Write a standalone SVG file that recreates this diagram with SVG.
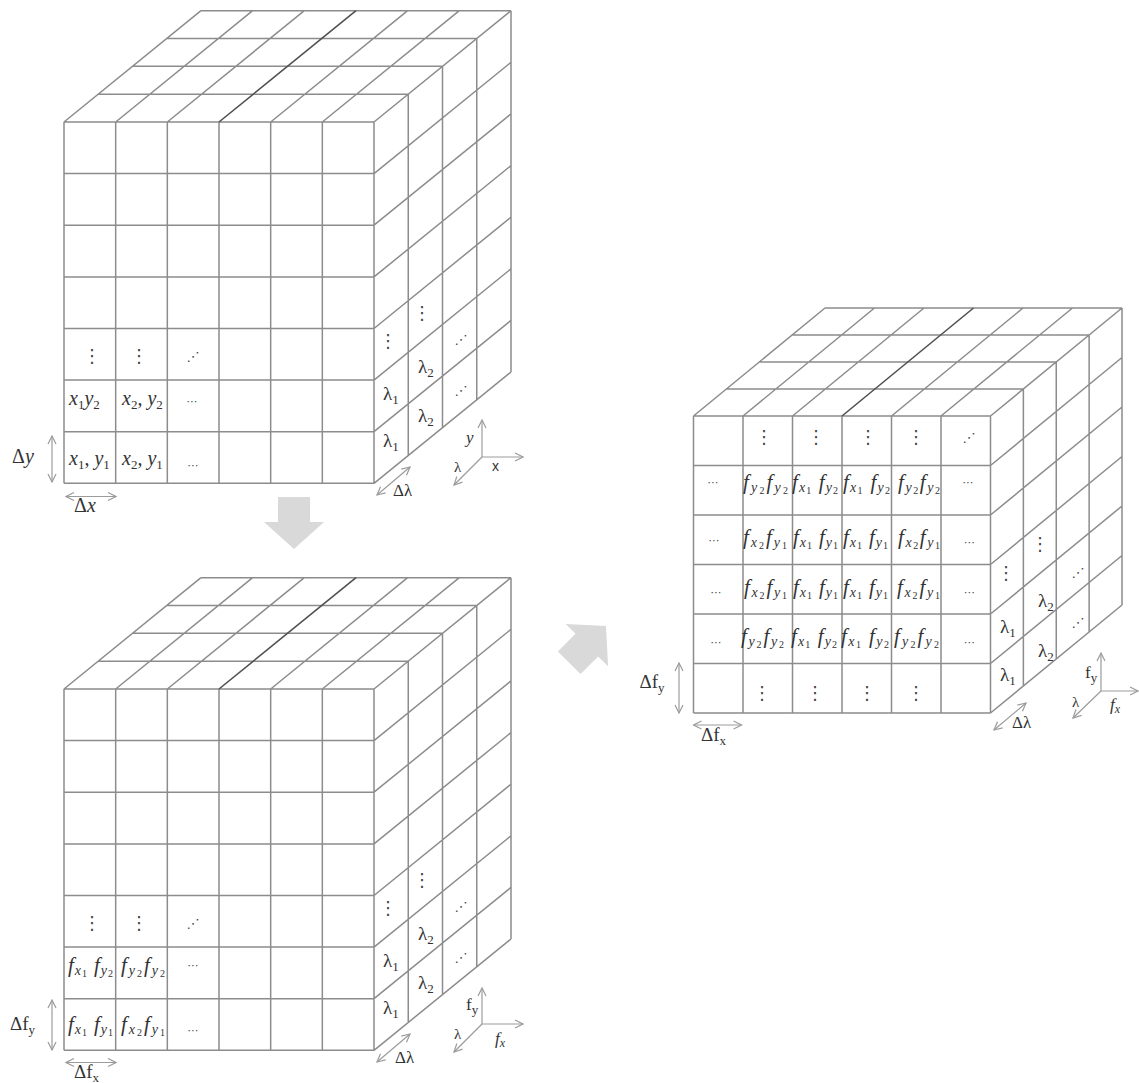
<svg xmlns="http://www.w3.org/2000/svg" width="1139" height="1083" viewBox="0 0 1139 1083">
<style>
.g{fill:none;stroke:#8c8c8c;stroke-width:1.5}
.gd{fill:none;stroke:#505050;stroke-width:1.6}
.dim{fill:none;stroke:#9c9c9c;stroke-width:1.2;marker-start:url(#ah);marker-end:url(#ah)}
.ax{fill:none;stroke:#9c9c9c;stroke-width:1.2;marker-end:url(#ah)}
.m{font-family:"Liberation Serif",serif;font-size:20px;font-style:italic;fill:#333}
.f{font-family:"Liberation Serif",serif;font-size:21px;font-style:italic;fill:#333}
.r{font-family:"Liberation Serif",serif;font-size:19px;fill:#333}
.s{font-size:13px;font-style:normal}
.si{font-size:14px;font-style:italic}
.ss{font-size:10px;font-style:normal}
.d{font-family:"DejaVu Sans",sans-serif;font-size:18px;fill:#444;text-anchor:middle}
.e{font-family:"DejaVu Sans",sans-serif;font-size:11px;fill:#444;text-anchor:middle}
.o{font-family:"DejaVu Sans",sans-serif;font-size:13px;fill:#444;text-anchor:middle}
.sans{font-family:"Liberation Sans",sans-serif;font-size:14px;fill:#333}
.arrow{fill:#d9d9d9}
</style>
<defs>
<marker id="ah" viewBox="0 0 10 10" refX="9" refY="5" markerWidth="10" markerHeight="10" markerUnits="userSpaceOnUse" orient="auto-start-reverse">
<path d="M1,1 L9,5 L1,9" fill="none" stroke="#9c9c9c" stroke-width="1.2"/>
</marker>
<polygon id="bigarrow" points="-16,0 16,0 16,25 30,25 0,52 -30,25 -16,25"/>
<g id="grid7">
<path class="g" d="M64,122V483.3M115.67,122V483.3M167.33,122V483.3M219,122V483.3M270.67,122V483.3M322.33,122V483.3M374,122V483.3
M64,122H374M64,173.6H374M64,225.2H374M64,276.9H374M64,328.5H374M64,380.1H374M64,431.7H374M64,483.3H374
M98.25,94.17H408.25M132.5,66.34H442.5M166.75,38.51H476.75M201,10.68H511
M64,122l137,-111.32M115.67,122l137,-111.32M167.33,122l137,-111.32M270.67,122l137,-111.32M322.33,122l137,-111.32M374,122l137,-111.32
M408.25,94.17V455.47M442.5,66.34V427.64M476.75,38.51V399.81M511,10.68V371.98
M374,173.6l137,-111.32M374,225.2l137,-111.32M374,276.9l137,-111.32M374,328.5l137,-111.32M374,380.1l137,-111.32M374,431.7l137,-111.32M374,483.3l137,-111.32"/>
<path class="gd" d="M219,122l137,-111.32"/>
</g>
</defs>

<g id="cube-xy">
<use href="#grid7"/>
<text class="d" x="92" y="362">⋮</text>
<text class="d" x="139" y="362">⋮</text>
<text class="o" x="193" y="361">⋰</text>
<text class="m" x="69" y="405">x<tspan class="s" dy="4">1</tspan><tspan dy="-4">y</tspan><tspan class="s" dy="4">2</tspan></text>
<text class="m" x="122" y="405">x<tspan class="s" dy="4">2</tspan><tspan class="s" dy="-4" style="font-size:20px">, </tspan>y<tspan class="s" dy="4">2</tspan></text>
<text class="e" x="192" y="405">⋯</text>
<text class="m" x="69" y="465">x<tspan class="s" dy="4">1</tspan><tspan class="s" dy="-4" style="font-size:20px">, </tspan>y<tspan class="s" dy="4">1</tspan></text>
<text class="m" x="122" y="465">x<tspan class="s" dy="4">2</tspan><tspan class="s" dy="-4" style="font-size:20px">, </tspan>y<tspan class="s" dy="4">1</tspan></text>
<text class="e" x="193" y="469">⋯</text>
<text class="r" x="383" y="447">λ<tspan class="s" dy="4">1</tspan></text>
<text class="r" x="383" y="400">λ<tspan class="s" dy="4">1</tspan></text>
<text class="r" x="418" y="422">λ<tspan class="s" dy="4">2</tspan></text>
<text class="r" x="418" y="373">λ<tspan class="s" dy="4">2</tspan></text>
<text class="d" x="388" y="347">⋮</text>
<text class="d" x="422" y="319">⋮</text>
<text class="o" x="461" y="395">⋰</text>
<text class="o" x="461" y="344">⋰</text>
<text class="r" x="12" y="463" style="font-size:20px">Δ<tspan style="font-style:italic">y</tspan></text>
<text class="r" x="74" y="512" style="font-size:20px">Δ<tspan style="font-style:italic">x</tspan></text>
<text class="r" x="393" y="496" style="font-size:17px">Δλ</text>
<text class="m" x="466" y="443" style="font-size:17px">y</text>
<text class="sans" x="492" y="471">x</text>
<text class="r" x="454" y="472" style="font-size:15px">λ</text>
<path class="dim" d="M52,436V482"/>
<path class="dim" d="M66,496.5H116"/>
<path class="dim" d="M377,495L410,467"/>
<path class="ax" d="M482,457V420"/>
<path class="ax" d="M482,457H523"/>
<path class="ax" d="M482,457L454,485"/>
</g>

<g id="cube-fxfy">
<use href="#grid7" y="567"/>
<text class="d" x="92" y="929">⋮</text>
<text class="d" x="139" y="929">⋮</text>
<text class="o" x="193" y="928">⋰</text>
<text class="f" x="68" y="972" textLength="45" lengthAdjust="spacing">f<tspan class="si" dy="3">x</tspan><tspan class="ss" dy="2">1</tspan><tspan dy="-5"> f</tspan><tspan class="si" dy="3">y</tspan><tspan class="ss" dy="2">2</tspan></text>
<text class="f" x="121" y="972" textLength="44" lengthAdjust="spacing">f<tspan class="si" dy="3">y</tspan><tspan class="ss" dy="2">2</tspan><tspan dy="-5">f</tspan><tspan class="si" dy="3">y</tspan><tspan class="ss" dy="2">2</tspan></text>
<text class="e" x="193" y="969">⋯</text>
<text class="f" x="68" y="1031" textLength="45" lengthAdjust="spacing">f<tspan class="si" dy="3">x</tspan><tspan class="ss" dy="2">1</tspan><tspan dy="-5"> f</tspan><tspan class="si" dy="3">y</tspan><tspan class="ss" dy="2">1</tspan></text>
<text class="f" x="121" y="1031" textLength="44" lengthAdjust="spacing">f<tspan class="si" dy="3">x</tspan><tspan class="ss" dy="2">2</tspan><tspan dy="-5">f</tspan><tspan class="si" dy="3">y</tspan><tspan class="ss" dy="2">1</tspan></text>
<text class="e" x="193" y="1034">⋯</text>
<text class="r" x="383" y="1014">λ<tspan class="s" dy="4">1</tspan></text>
<text class="r" x="383" y="967">λ<tspan class="s" dy="4">1</tspan></text>
<text class="r" x="418" y="989">λ<tspan class="s" dy="4">2</tspan></text>
<text class="r" x="418" y="940">λ<tspan class="s" dy="4">2</tspan></text>
<text class="d" x="388" y="914">⋮</text>
<text class="d" x="422" y="886">⋮</text>
<text class="o" x="461" y="962">⋰</text>
<text class="o" x="461" y="911">⋰</text>
<text class="r" x="10" y="1030">Δf<tspan class="s" dy="4">y</tspan></text>
<text class="r" x="74" y="1078">Δf<tspan class="s" dy="4">x</tspan></text>
<text class="r" x="395" y="1063" style="font-size:17px">Δλ</text>
<text class="r" x="466" y="1010" style="font-size:17px">f<tspan class="s" dy="4">y</tspan></text>
<text class="r" x="454" y="1039" style="font-size:15px">λ</text>
<text class="m" x="495" y="1044" style="font-size:17px">f<tspan class="si" dy="3" style="font-size:12px">x</tspan></text>
<path class="dim" d="M52,1000V1050"/>
<path class="dim" d="M66,1062.5H116"/>
<path class="dim" d="M377,1062L410,1034"/>
<path class="ax" d="M482,1024V988"/>
<path class="ax" d="M482,1024H523"/>
<path class="ax" d="M482,1024L454,1052"/>
</g>

<g id="cube-shifted">
<path class="g" d="M693.5,416V713M743,416V713M792.5,416V713M842,416V713M891.5,416V713M941,416V713M990.5,416V713
M693.5,416H990.5M693.5,465.5H990.5M693.5,515H990.5M693.5,564.5H990.5M693.5,614H990.5M693.5,663.5H990.5M693.5,713H990.5
M726.375,389H1023.375M759.25,362H1056.25M792.125,335H1089.125M825,308H1122
M693.5,416l131.5,-108M743,416l131.5,-108M792.5,416l131.5,-108M891.5,416l131.5,-108M941,416l131.5,-108M990.5,416l131.5,-108
M1023.375,389V686M1056.25,362V659M1089.125,335V632M1122,308V605
M990.5,465.5l131.5,-108M990.5,515l131.5,-108M990.5,564.5l131.5,-108M990.5,614l131.5,-108M990.5,663.5l131.5,-108M990.5,713l131.5,-108"/>
<path class="gd" d="M842,416l131.5,-108"/>
<text class="d" x="764" y="443">⋮</text>
<text class="d" x="816" y="443">⋮</text>
<text class="d" x="868" y="443">⋮</text>
<text class="d" x="916" y="443">⋮</text>
<text class="o" x="969" y="442">⋰</text>
<text class="e" x="713" y="486">⋯</text>
<text class="f" x="743" y="489" textLength="45" lengthAdjust="spacing">f<tspan class="si" dy="3">y</tspan><tspan class="ss" dy="2">2</tspan><tspan dy="-5">f</tspan><tspan class="si" dy="3">y</tspan><tspan class="ss" dy="2">2</tspan></text>
<text class="f" x="792" y="489" textLength="46" lengthAdjust="spacing">f<tspan class="si" dy="3">x</tspan><tspan class="ss" dy="2">1</tspan><tspan dy="-5"> f</tspan><tspan class="si" dy="3">y</tspan><tspan class="ss" dy="2">2</tspan></text>
<text class="f" x="843" y="489" textLength="47" lengthAdjust="spacing">f<tspan class="si" dy="3">x</tspan><tspan class="ss" dy="2">1</tspan><tspan dy="-5"> f</tspan><tspan class="si" dy="3">y</tspan><tspan class="ss" dy="2">2</tspan></text>
<text class="f" x="898" y="489" textLength="42" lengthAdjust="spacing">f<tspan class="si" dy="3">y</tspan><tspan class="ss" dy="2">2</tspan><tspan dy="-5">f</tspan><tspan class="si" dy="3">y</tspan><tspan class="ss" dy="2">2</tspan></text>
<text class="e" x="968" y="486">⋯</text>
<text class="e" x="714" y="544">⋯</text>
<text class="f" x="743" y="544" textLength="44" lengthAdjust="spacing">f<tspan class="si" dy="3">x</tspan><tspan class="ss" dy="2">2</tspan><tspan dy="-5">f</tspan><tspan class="si" dy="3">y</tspan><tspan class="ss" dy="2">1</tspan></text>
<text class="f" x="793" y="544" textLength="45" lengthAdjust="spacing">f<tspan class="si" dy="3">x</tspan><tspan class="ss" dy="2">1</tspan><tspan dy="-5"> f</tspan><tspan class="si" dy="3">y</tspan><tspan class="ss" dy="2">1</tspan></text>
<text class="f" x="843" y="544" textLength="45" lengthAdjust="spacing">f<tspan class="si" dy="3">x</tspan><tspan class="ss" dy="2">1</tspan><tspan dy="-5"> f</tspan><tspan class="si" dy="3">y</tspan><tspan class="ss" dy="2">1</tspan></text>
<text class="f" x="898" y="544" textLength="42" lengthAdjust="spacing">f<tspan class="si" dy="3">x</tspan><tspan class="ss" dy="2">2</tspan><tspan dy="-5">f</tspan><tspan class="si" dy="3">y</tspan><tspan class="ss" dy="2">1</tspan></text>
<text class="e" x="969.5" y="546">⋯</text>
<text class="e" x="716" y="596">⋯</text>
<text class="f" x="744" y="593.5" textLength="43" lengthAdjust="spacing">f<tspan class="si" dy="3">x</tspan><tspan class="ss" dy="2">2</tspan><tspan dy="-5">f</tspan><tspan class="si" dy="3">y</tspan><tspan class="ss" dy="2">1</tspan></text>
<text class="f" x="793" y="593.5" textLength="45" lengthAdjust="spacing">f<tspan class="si" dy="3">x</tspan><tspan class="ss" dy="2">1</tspan><tspan dy="-5"> f</tspan><tspan class="si" dy="3">y</tspan><tspan class="ss" dy="2">1</tspan></text>
<text class="f" x="843" y="593.5" textLength="45" lengthAdjust="spacing">f<tspan class="si" dy="3">x</tspan><tspan class="ss" dy="2">1</tspan><tspan dy="-5"> f</tspan><tspan class="si" dy="3">y</tspan><tspan class="ss" dy="2">1</tspan></text>
<text class="f" x="897" y="593.5" textLength="43" lengthAdjust="spacing">f<tspan class="si" dy="3">x</tspan><tspan class="ss" dy="2">2</tspan><tspan dy="-5">f</tspan><tspan class="si" dy="3">y</tspan><tspan class="ss" dy="2">1</tspan></text>
<text class="e" x="969.5" y="596">⋯</text>
<text class="e" x="716" y="646">⋯</text>
<text class="f" x="741" y="643" textLength="43" lengthAdjust="spacing">f<tspan class="si" dy="3">y</tspan><tspan class="ss" dy="2">2</tspan><tspan dy="-5">f</tspan><tspan class="si" dy="3">y</tspan><tspan class="ss" dy="2">2</tspan></text>
<text class="f" x="791" y="643" textLength="46" lengthAdjust="spacing">f<tspan class="si" dy="3">x</tspan><tspan class="ss" dy="2">1</tspan><tspan dy="-5"> f</tspan><tspan class="si" dy="3">y</tspan><tspan class="ss" dy="2">2</tspan></text>
<text class="f" x="841" y="643" textLength="48" lengthAdjust="spacing">f<tspan class="si" dy="3">x</tspan><tspan class="ss" dy="2">1</tspan><tspan dy="-5"> f</tspan><tspan class="si" dy="3">y</tspan><tspan class="ss" dy="2">2</tspan></text>
<text class="f" x="894" y="643" textLength="45" lengthAdjust="spacing">f<tspan class="si" dy="3">y</tspan><tspan class="ss" dy="2">2</tspan><tspan dy="-5">f</tspan><tspan class="si" dy="3">y</tspan><tspan class="ss" dy="2">2</tspan></text>
<text class="e" x="969.5" y="646">⋯</text>
<text class="d" x="762" y="699">⋮</text>
<text class="d" x="815" y="699">⋮</text>
<text class="d" x="867" y="699">⋮</text>
<text class="d" x="916" y="699">⋮</text>
<text class="r" x="1000" y="681">λ<tspan class="s" dy="4">1</tspan></text>
<text class="r" x="1000" y="633">λ<tspan class="s" dy="4">1</tspan></text>
<text class="r" x="1038" y="607">λ<tspan class="s" dy="4">2</tspan></text>
<text class="r" x="1038" y="657">λ<tspan class="s" dy="4">2</tspan></text>
<text class="d" x="1006" y="579">⋮</text>
<text class="d" x="1040" y="550">⋮</text>
<text class="o" x="1078" y="577">⋰</text>
<text class="o" x="1078" y="627">⋰</text>
<text class="r" x="639.5" y="688">Δf<tspan class="s" dy="4">y</tspan></text>
<text class="r" x="701" y="741">Δf<tspan class="s" dy="4">x</tspan></text>
<text class="r" x="1012" y="728" style="font-size:17px">Δλ</text>
<text class="r" x="1085" y="678" style="font-size:17px">f<tspan class="s" dy="4">y</tspan></text>
<text class="r" x="1072" y="707" style="font-size:15px">λ</text>
<text class="m" x="1110" y="710" style="font-size:17px">f<tspan class="si" dy="3" style="font-size:12px">x</tspan></text>
<path class="dim" d="M679,663V713"/>
<path class="dim" d="M693.5,725H741.6"/>
<path class="dim" d="M994,730L1026,703"/>
<path class="ax" d="M1101,691V653"/>
<path class="ax" d="M1101,691H1138"/>
<path class="ax" d="M1101,691L1073,718"/>
</g>

<g id="connectors">
<use href="#bigarrow" class="arrow" transform="translate(294,497)"/>
<use href="#bigarrow" class="arrow" transform="translate(569.2,662.8) rotate(-135)"/>
</g>
</svg>
